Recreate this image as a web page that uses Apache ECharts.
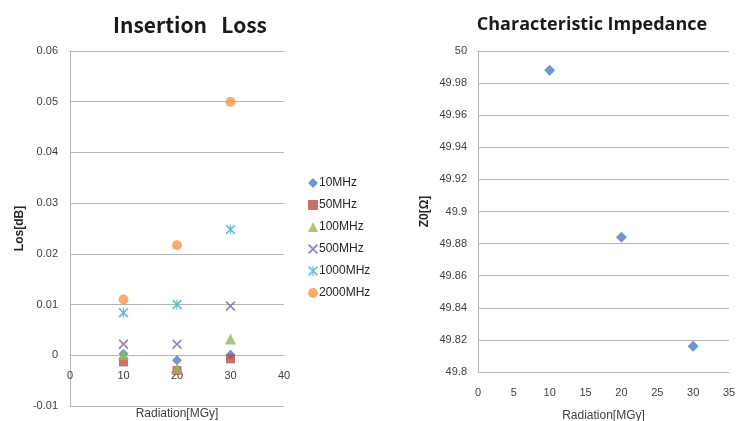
<!DOCTYPE html>
<html><head><meta charset="utf-8">
<script src="https://cdn.jsdelivr.net/npm/echarts@6/dist/echarts.min.js"></script>
<style>html,body{margin:0;padding:0;background:#fff}#c{width:736px;height:421px}</style>
</head><body><div id="c"></div>
<script>
const radiation = [10, 20, 30];
const lossSeriesNames = ['10MHz', '50MHz', '100MHz', '500MHz', '1000MHz', '2000MHz'];
const loss10 = [0.0003, -0.001, 0.0001];
const loss50 = [-0.0013, -0.003, -0.0007];
const loss100 = [0.0001, -0.0026, 0.0032];
const loss500 = [0.0022, 0.0022, 0.0097];
const loss1000 = [0.0084, 0.0100, 0.0248];
const loss2000 = [0.011, 0.0217, 0.0500];
const impedance = [49.988, 49.884, 49.816];
const lossTicks = { min: -0.01, max: 0.06, interval: 0.01 };
const zTicks = { min: 49.8, max: 50, interval: 0.02 };

const lossValues = [loss10, loss50, loss100, loss500, loss1000, loss2000];
const colors = ['#4a7ebb', '#be4b48', '#98b954', '#7d60a0', '#46aac5', '#f79646'];
const xPath = 'path://M0,1.2L1.2,0L5,3.8L8.8,0L10,1.2L6.2,5L10,8.8L8.8,10L5,6.2L1.2,10L0,8.8L3.8,5Z';
const starPath = 'path://M0,1.2L1.2,0L4.4,3.2L4.4,0L5.6,0L5.6,3.2L8.8,0L10,1.2L6.2,5L10,8.8L8.8,10L5.6,6.8L5.6,10L4.4,10L4.4,6.8L1.2,10L0,8.8L3.8,5Z';
const symbols = ['diamond', 'rect', 'triangle', xPath, starPath, 'circle'];
const sizes = [10, 9, 11, 10, 10, 10];

const labelFont = { color: '#404040', fontSize: 11, fontFamily: 'Liberation Sans' };
const grid = '#b5b5b5';
const fmt = v => String(+v.toFixed(2));

// left grid geometry; x axis sits where y = 0 (as in the reference)
const leftGridH = 355;
const zeroOffset = -leftGridH * (0 - lossTicks.min) / (lossTicks.max - lossTicks.min);

const series = lossSeriesNames.map((n, i) => ({
  name: n, type: 'scatter', xAxisIndex: 0, yAxisIndex: 0,
  symbol: symbols[i], symbolSize: sizes[i],
  itemStyle: { color: colors[i] },
  data: radiation.map((x, j) => [x, lossValues[i][j]])
}));
series.push({
  name: 'Z0', type: 'scatter', xAxisIndex: 1, yAxisIndex: 1,
  symbol: 'diamond', symbolSize: 11, itemStyle: { color: colors[0] },
  data: radiation.map((x, j) => [x, impedance[j]])
});

const chart = echarts.init(document.getElementById('c'));
chart.setOption({
  animation: false,
  title: [
    { text: 'Insertion   Loss', left: 185, top: 10, textAlign: 'center',
      textStyle: { fontSize: 21, fontWeight: 'bold', color: '#1a1a1a', fontFamily: 'Noto Sans CJK JP' } },
    { text: 'Characteristic Impedance', left: 587, top: 11, textAlign: 'center',
      textStyle: { fontSize: 18, fontWeight: 'bold', color: '#1a1a1a', fontFamily: 'Open Sans' } }
  ],
  legend: {
    data: lossSeriesNames, orient: 'vertical', left: 303, top: 172, itemGap: 10,
    itemWidth: 10, itemHeight: 10, textStyle: { color: '#262626', fontSize: 12, fontFamily: 'Liberation Sans', padding: [0,0,0,-4] }
  },
  grid: [
    { left: 70, top: 51, width: 214, height: leftGridH, outerBoundsMode: 'none', containLabel: false },
    { left: 478, top: 51, width: 251, height: 321, outerBoundsMode: 'none', containLabel: false }
  ],
  xAxis: [
    { gridIndex: 0, type: 'value', min: 0, max: 40, interval: 10, offset: zeroOffset,
      name: 'Radiation[MGy]', nameLocation: 'middle', nameGap: 52,
      nameTextStyle: { color: '#404040', fontSize: 12, fontFamily: 'Liberation Sans' },
      axisLine: { onZero: false, lineStyle: { color: grid } }, axisTick: { show: false },
      splitLine: { show: false }, axisLabel: Object.assign({ margin: 15 }, labelFont) },
    { gridIndex: 1, type: 'value', min: 0, max: 35, interval: 5,
      name: 'Radiation[MGy]', nameLocation: 'middle', nameGap: 38,
      nameTextStyle: { color: '#404040', fontSize: 12, fontFamily: 'Liberation Sans' },
      axisLine: { lineStyle: { color: grid } }, axisTick: { show: false },
      splitLine: { show: false }, axisLabel: Object.assign({ margin: 15 }, labelFont) }
  ],
  yAxis: [
    { gridIndex: 0, type: 'value', min: lossTicks.min, max: lossTicks.max, interval: lossTicks.interval,
      name: 'Los[dB]', nameLocation: 'middle', nameGap: 44,
      nameTextStyle: { color: '#262626', fontSize: 12, fontWeight: 'bold', fontFamily: 'Liberation Sans' },
      axisLine: { show: true, onZero: false, lineStyle: { color: grid } }, axisTick: { show: false },
      splitLine: { lineStyle: { color: grid } },
      axisLabel: Object.assign({ margin: 12, formatter: fmt }, labelFont) },
    { gridIndex: 1, type: 'value', min: zTicks.min, max: zTicks.max, interval: zTicks.interval,
      name: 'Z0[Ω]', nameLocation: 'middle', nameGap: 47,
      nameTextStyle: { color: '#262626', fontSize: 12, fontWeight: 'bold', fontFamily: 'Liberation Sans' },
      axisLine: { show: true, onZero: false, lineStyle: { color: grid } }, axisTick: { show: false },
      splitLine: { lineStyle: { color: grid } },
      axisLabel: Object.assign({ margin: 11, formatter: fmt }, labelFont) }
  ],
  series: series
});
</script></body></html>
